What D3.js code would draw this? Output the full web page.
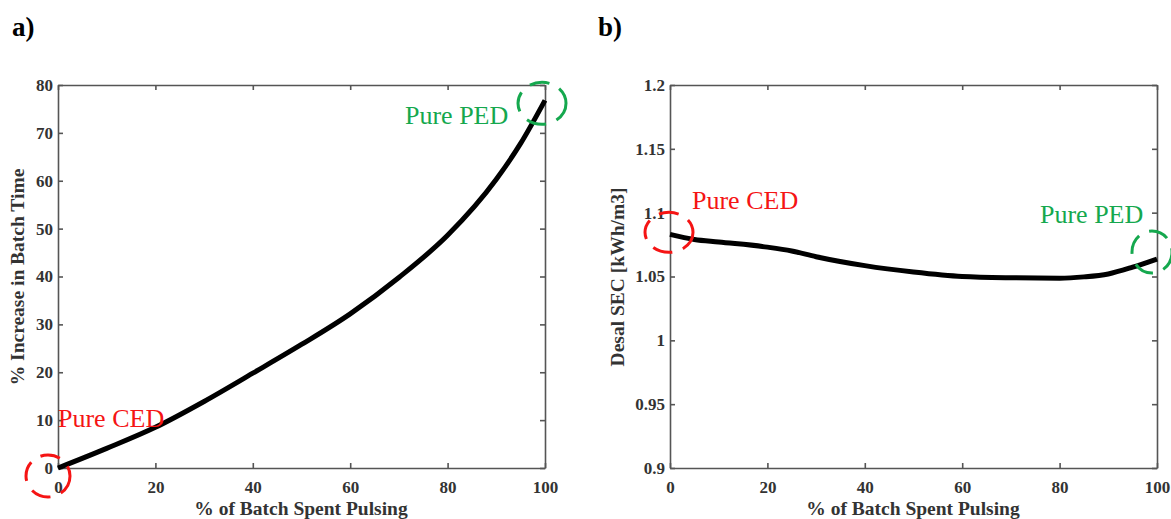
<!DOCTYPE html>
<html>
<head>
<meta charset="utf-8">
<script src="https://cdn.jsdelivr.net/npm/d3@7"></script>
<style>
body { margin: 0; background: #fff; }
svg text { font-family: "Liberation Serif", "DejaVu Serif", "Times New Roman", Times, serif; }
.axis path, .axis line { stroke: #555; stroke-width: 1.6; }
.axis text { font-weight: bold; font-size: 17px; fill: #333; }
.title { font-weight: bold; font-size: 19.5px; fill: #333; }
.note { font-size: 26px; }
.panel { font-weight: bold; font-size: 27px; fill: #000; }
</style>
</head>
<body>
<script>
// panel a) - batch time increase
var pulseA = [0, 10, 20, 30, 40, 50, 60, 70, 80, 90, 95, 100];
var timeIncrease = [0, 4.1, 8.5, 13.9, 19.8, 25.8, 32.2, 39.8, 48.6, 60.3, 67.8, 76.8];
var xTicks = [0, 20, 40, 60, 80, 100];
var yTicksA = [0, 10, 20, 30, 40, 50, 60, 70, 80];

// panel b) - desal SEC
var pulseB = [0, 5, 10, 20, 25, 30, 40, 50, 60, 70, 80, 85, 90, 95, 100];
var desalSEC = [1.083, 1.079, 1.077, 1.073, 1.070, 1.0655, 1.0585, 1.0535, 1.050, 1.049, 1.0487, 1.0497, 1.052, 1.0573, 1.0637];
var yTicksB = [0.9, 0.95, 1, 1.05, 1.1, 1.15, 1.2];
var yLabelsB = ["0.9", "0.95", "1", "1.05", "1.1", "1.15", "1.2"];

var red = "#f51414", green = "#15a84e";

var svg = d3.select("body").append("svg")
  .attr("width", 1171)
  .attr("height", 519);

function panel(opt) {
  var x = d3.scaleLinear().domain([0, 100]).range([opt.left, opt.left + 487]);
  var y = d3.scaleLinear().domain(opt.yDomain).range([468, 85]);

  // box with inward ticks
  svg.append("g").attr("class", "axis")
    .attr("transform", "translate(0,468)")
    .call(d3.axisBottom(x).tickValues(xTicks).tickSizeInner(-5).tickSizeOuter(0).tickPadding(13));
  svg.append("g").attr("class", "axis")
    .attr("transform", "translate(0,85)")
    .call(d3.axisTop(x).tickValues(xTicks).tickSizeInner(-5).tickSizeOuter(0).tickFormat(""));
  svg.append("g").attr("class", "axis")
    .attr("transform", "translate(" + opt.left + ",0)")
    .call(d3.axisLeft(y).tickValues(opt.yTicks).tickSizeInner(-5).tickSizeOuter(0).tickPadding(5)
      .tickFormat(function(d, i) { return opt.yLabels[i]; }));
  svg.append("g").attr("class", "axis")
    .attr("transform", "translate(" + (opt.left + 487) + ",0)")
    .call(d3.axisRight(y).tickValues(opt.yTicks).tickSizeInner(-5).tickSizeOuter(0).tickFormat(""));

  // data line
  var line = d3.line()
    .x(function(d) { return x(d[0]); })
    .y(function(d) { return y(d[1]); })
    .curve(d3.curveMonotoneX);
  svg.append("path")
    .datum(d3.zip(opt.xs, opt.ys))
    .attr("fill", "none")
    .attr("stroke", "#000")
    .attr("stroke-width", 5)
    .attr("d", line);

  // titles
  svg.append("text").attr("class", "title")
    .attr("x", opt.left + 243).attr("y", 515)
    .attr("text-anchor", "middle")
    .text("% of Batch Spent Pulsing");
  svg.append("text").attr("class", "title")
    .attr("transform", "translate(" + opt.yTitleX + ",277) rotate(-90)")
    .attr("text-anchor", "middle")
    .text(opt.yTitle);
  svg.append("text").attr("class", "panel")
    .attr("x", opt.tagX).attr("y", 36)
    .text(opt.tag);

  return { x: x, y: y };
}

function ring(cx, cy, rx, ry, color) {
  svg.append("ellipse")
    .attr("cx", cx).attr("cy", cy).attr("rx", rx).attr("ry", ry)
    .attr("fill", "none")
    .attr("stroke", color)
    .attr("stroke-width", 3)
    .attr("stroke-dasharray", "20 11");
}

function note(x, y, txt, color) {
  svg.append("text").attr("class", "note")
    .attr("x", x).attr("y", y)
    .attr("fill", color)
    .text(txt);
}

var a = panel({
  left: 58, xs: pulseA, ys: timeIncrease,
  yDomain: [0, 80], yTicks: yTicksA, yLabels: yTicksA.map(String),
  yTitle: "% Increase in Batch Time", yTitleX: 24, tag: "a)", tagX: 12
});
ring(a.x(0) - 10, a.y(0) + 8, 22, 21, red);
ring(a.x(100) - 3, a.y(76.8) + 3, 24, 21, green);
note(58, 427, "Pure CED", red);
note(405, 124, "Pure PED", green);

var b = panel({
  left: 670, xs: pulseB, ys: desalSEC,
  yDomain: [0.9, 1.2], yTicks: yTicksB, yLabels: yLabelsB,
  yTitle: "Desal SEC [kWh/m3]", yTitleX: 624, tag: "b)", tagX: 598
});
ring(b.x(0) - 1, b.y(1.083) - 2, 24, 20, red);
ring(b.x(100) - 5, b.y(1.0637) - 7, 20, 21, green);
note(692, 209, "Pure CED", red);
note(1040, 223, "Pure PED", green);
</script>
</body>
</html>
